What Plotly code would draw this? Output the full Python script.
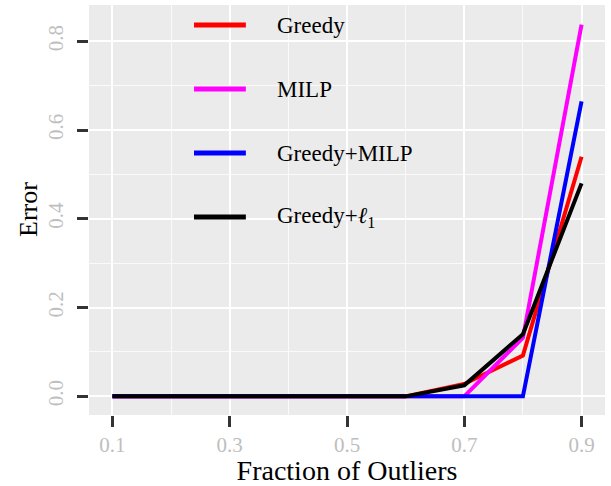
import plotly.graph_objects as go

# Datos
fraction = [0.1, 0.2, 0.3, 0.4, 0.5, 0.6, 0.7, 0.8, 0.9]
greedy = [0, 0, 0, 0, 0, 0, 0.028, 0.092, 0.54]
milp = [0, 0, 0, 0, 0, 0, 0, 0.132, 0.838]
greedy_milp = [0, 0, 0, 0, 0, 0, 0, 0, 0.665]
greedy_l1 = [0, 0, 0, 0, 0, 0, 0.025, 0.14, 0.48]

names = ['Greedy', 'MILP', 'Greedy+MILP', 'Greedy+<i>ℓ</i><sub>1</sub>']
colors = ['#FF0000', '#FF00FF', '#0000FF', '#000000']
series = [greedy, milp, greedy_milp, greedy_l1]

x_ticks = [0.1, 0.3, 0.5, 0.7, 0.9]
y_ticks = [0.0, 0.2, 0.4, 0.6, 0.8]

font_serif = 'Liberation Serif, Times New Roman, serif'

fig = go.Figure()

for name, color, values in zip(names, colors, series):
    fig.add_trace(
        go.Scatter(
            x=fraction,
            y=values,
            mode='lines',
            name=name,
            line=dict(color=color, width=4),
            showlegend=False
        )
    )

# Leyenda manual (dentro del panel, sin fondo)
shapes = []
annotations = []
legend_top = 0.951
legend_step = 0.156
for i, (name, color) in enumerate(zip(names, colors)):
    y_pos = legend_top - i * legend_step
    shapes.append(dict(
        type='line', xref='paper', yref='paper',
        x0=0.2035, x1=0.304, y0=y_pos, y1=y_pos,
        line=dict(color=color, width=5)
    ))
    annotations.append(dict(
        text=name, xref='paper', yref='paper',
        x=0.36, y=y_pos, xanchor='left', yanchor='middle',
        showarrow=False,
        font=dict(family=font_serif, size=23, color='#000000')
    ))

# Título del eje Y como anotación (para controlar su posición)
annotations.append(dict(
    text='Error', xref='paper', yref='paper',
    x=0, y=0.5, xanchor='center', yanchor='middle',
    xshift=-61, textangle=-90, showarrow=False,
    font=dict(family=font_serif, size=26, color='#000000')
))

axis_common = dict(
    showline=False,
    zeroline=False,
    automargin=False,
    ticks='outside',
    ticklen=11,
    tickwidth=2.5,
    tickcolor='#333333',
    gridcolor='#FFFFFF',
    gridwidth=2,
    tickfont=dict(family=font_serif, size=21, color='#BEBEBE'),
)

fig.update_layout(
    width=611,
    height=486,
    margin=dict(l=89, r=6, t=5, b=71),
    plot_bgcolor='#EBEBEB',
    paper_bgcolor='#FFFFFF',
    shapes=shapes,
    annotations=annotations,
    xaxis=dict(
        axis_common,
        range=[0.06, 0.94],
        tickvals=x_ticks,
        ticktext=[f'{v:.1f}' for v in x_ticks],
        minor=dict(dtick=0.1, tick0=0.1, showgrid=True, gridcolor='#FAFAFA', gridwidth=1, ticks=''),
        title=dict(text='Fraction of Outliers', font=dict(family=font_serif, size=28, color='#000000'), standoff=4),
    ),
    yaxis=dict(
        axis_common,
        range=[-0.042, 0.882],
        tickvals=y_ticks,
        ticktext=[f'{v:.1f}' for v in y_ticks],
        tickangle=-90,
        ticklabelstandoff=6,
        minor=dict(dtick=0.1, tick0=0.0, showgrid=True, gridcolor='#FAFAFA', gridwidth=1, ticks=''),
    ),
)

# Quitar el margen por defecto del body para que la figura ocupe la ventana
fig.write_html(
    'out.html',
    config={'displayModeBar': False},
    post_script="document.body.style.margin='0';"
)
